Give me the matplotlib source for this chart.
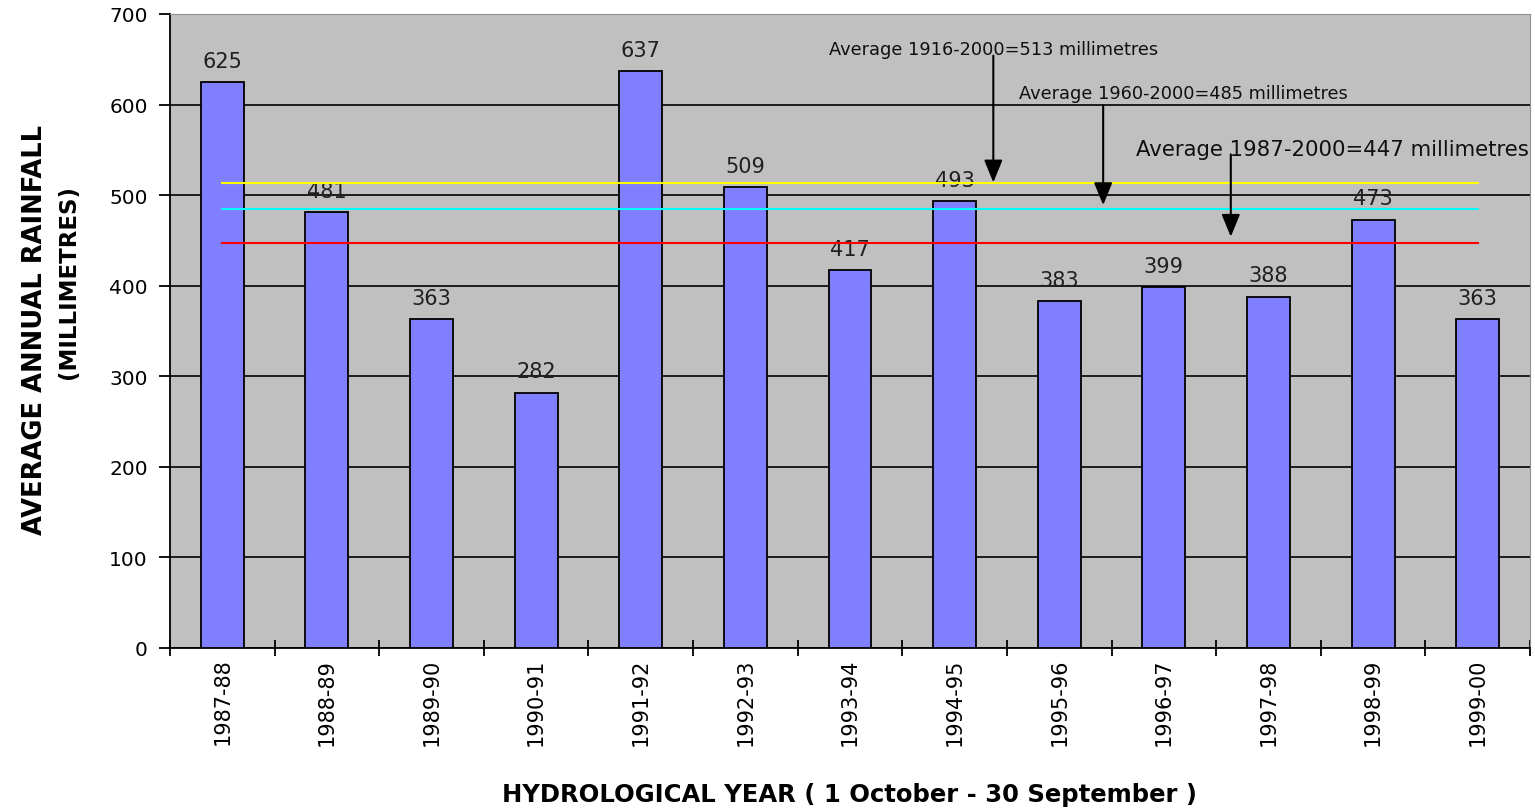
import matplotlib
matplotlib.use('Agg')
import matplotlib.pyplot as plt

# данные
years = ['1987-88', '1988-89', '1989-90', '1990-91', '1991-92', '1992-93', '1993-94',
         '1994-95', '1995-96', '1996-97', '1997-98', '1998-99', '1999-00']
rainfall = [625, 481, 363, 282, 637, 509, 417, 493, 383, 399, 388, 473, 363]

avg_values = [513, 485, 447]
avg_colors = ['#FFFF00', '#00FFFF', '#FF0000']
avg_texts = ['Average 1916-2000=513 millimetres',
             'Average 1960-2000=485 millimetres',
             'Average 1987-2000=447 millimetres']

plt.rcParams['font.family'] = ['DejaVu Sans']

fig = plt.figure(figsize=(15.35, 8.12), dpi=100)
ax = fig.add_axes([170 / 1535, 1 - 649 / 812, 1360 / 1535, 634 / 812])
ax.set_facecolor('#C0C0C0')

x = list(range(len(years)))
ax.set_xlim(-0.5, len(years) - 0.5)
ax.set_ylim(0, 700)
ax.set_yticks(range(0, 701, 100))
ax.yaxis.grid(True, color='black', linewidth=1.2)
ax.set_axisbelow(True)

bars = ax.bar(x, rainfall, width=0.41, color='#8080FF', edgecolor='black', linewidth=1.3, zorder=3)
for xi, v in zip(x, rainfall):
    ax.annotate(str(v), (xi, v), xytext=(0, 8), textcoords='offset points',
                ha='center', va='bottom', fontsize=15, color='#202020', zorder=4)

# средние линии
for val, col in zip(avg_values, avg_colors):
    ax.plot([x[0], x[-1]], [val, val], color=col, linewidth=1.5, zorder=4)

# подписи со стрелками
arrow_x = [7.37, 8.42, 9.64]
arrow_tip = [514, 489, 454]
arrow_start = [654, 599, 545]
text_x = [7.37, 9.19, 10.61]
text_y = [661, 613, 551]
text_size = [12.8, 12.8, 15.3]
for i in range(3):
    ax.annotate('', xy=(arrow_x[i], arrow_tip[i]), xytext=(arrow_x[i], arrow_start[i]),
                arrowprops=dict(arrowstyle='-|>,head_length=1.1,head_width=0.45', color='black',
                                lw=1.5, shrinkA=0, shrinkB=0, mutation_scale=12.5), zorder=5)
    ax.text(text_x[i], text_y[i], avg_texts[i], ha='center', va='center',
            fontsize=text_size[i], color='#101010', zorder=6)

# оси
ax.set_xticks([i - 0.5 for i in range(len(years) + 1)])
ax.set_xticklabels([])
ax.set_xticks(x, minor=True)
ax.set_xticklabels(years, minor=True, rotation=90, fontsize=15)
ax.tick_params(axis='x', which='major', direction='inout', length=12, width=1.3)
ax.tick_params(axis='x', which='minor', length=0, pad=7)
ax.tick_params(axis='y', direction='out', length=8, width=1.3, labelsize=14.5, pad=8)

for s in ['left', 'bottom']:
    ax.spines[s].set_linewidth(1.3)
for s in ['top', 'right']:
    ax.spines[s].set_color('#909090')

fig.text(35 / 1535, 1 - 330 / 812, 'AVERAGE ANNUAL RAINFALL', rotation=90, fontsize=18.5,
         fontweight='bold', ha='center', va='center')
fig.text(68 / 1535, 1 - 282 / 812, '(MILLIMETRES)', rotation=90, fontsize=16.5,
         fontweight='bold', ha='center', va='center')
fig.text(850 / 1535, 1 - 795 / 812, 'HYDROLOGICAL YEAR ( 1 October - 30 September )',
         fontsize=17.5, fontweight='bold', ha='center', va='center')

fig.savefig('out.png', dpi=100)
